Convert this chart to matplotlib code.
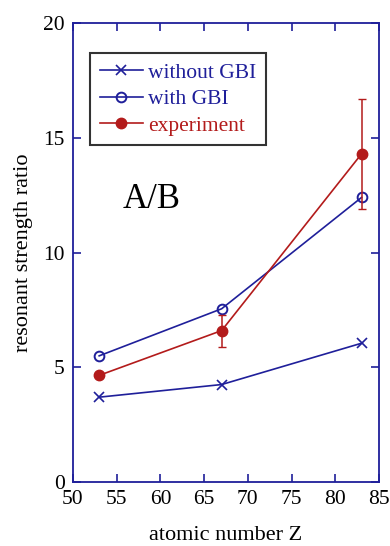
import numpy as np
import matplotlib
matplotlib.use("Agg")
import matplotlib.pyplot as plt

plt.rcParams['font.family'] = ['Liberation Serif', 'DejaVu Serif']

z = [53, 67, 83]
without_gbi = [3.7, 4.25, 6.05]
with_gbi = [5.5, 7.55, 12.4]
experiment = [4.65, 6.6, 14.3]
exp_err = [0.0, 0.7, 2.4]

blue = '#1f1f9a'
red = '#b31b1b'

fig = plt.figure(figsize=(3.9, 5.46), dpi=100)
ax = fig.add_axes([0.187, 0.117, 0.785, 0.841])

ax.plot(z, without_gbi, color=blue, lw=1.2, marker='x', ms=7.5, mew=1.2,
        label='without GBI')
ax.plot(z, with_gbi, color=blue, lw=1.2, marker='o', ms=7, mfc='none',
        mew=1.4, label='with GBI')
ax.errorbar(z, experiment, yerr=exp_err, color=red, lw=1.2, fmt='none',
            capsize=3.2, elinewidth=1.1)
ax.plot(z, experiment, color=red, lw=1.2, marker='o', ms=7.5,
        label='experiment')

ax.set_xlim(50, 85)
ax.set_ylim(0, 20)
ax.set_xticks(np.arange(50, 86, 5))
ax.set_yticks(np.arange(0, 21, 5))
ax.tick_params(direction='in', top=True, right=True, length=6, width=1.2,
               color=blue, labelsize=15.5, pad=6)
for s in ax.spines.values():
    s.set_color(blue)
    s.set_linewidth(1.3)

ax.set_xlabel('atomic number Z', fontsize=16, labelpad=12)
ax.set_ylabel('resonant strength ratio', fontsize=16, labelpad=7)
ax.text(55.7, 11.96, 'A/B', fontsize=25, va='baseline')

leg = ax.legend(loc='upper left', bbox_to_anchor=(0.056, 0.935), fontsize=15.5,
                fancybox=False, edgecolor='black', handlelength=2.0,
                borderpad=0.45, labelspacing=0.3, handletextpad=0.25,
                borderaxespad=0)
leg.get_frame().set_linewidth(1.5)
for t, c in zip(leg.get_texts(), [blue, blue, red]):
    t.set_color(c)

fig.savefig('out.png', dpi=100)
